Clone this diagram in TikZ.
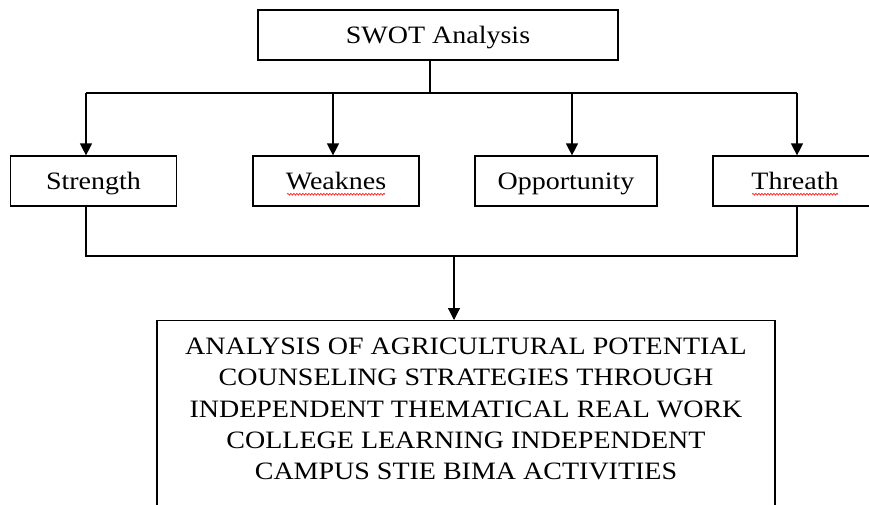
\documentclass[tikz,border=0pt]{standalone}
\usepackage{fontspec}
\setmainfont{Liberation Serif}[FakeStretch=1.12]
\usetikzlibrary{arrows.meta, decorations.pathmorphing}

\begin{document}
\begin{tikzpicture}[x=1pt, y=-1pt,
  box/.style={rectangle, draw=black, line width=1.2pt, minimum height=50pt, inner sep=0pt, text height=16.5pt, text depth=0pt, font=\fontsize{25}{30}\selectfont},
  line/.style={line width=1.2pt, draw=black},
  arrow/.style={line, -{Triangle[length=12pt, width=12pt]}},
  squiggle/.style={draw=red, line width=0.6pt, decorate, decoration={snake, amplitude=0.9pt, segment length=3pt}}
]
  \useasboundingbox (0,0) rectangle (869,504);
  \clip (0,0) rectangle (869,504);

  % Top box
  \node[box, minimum width=360pt] (swot) at (438,35) {SWOT Analysis};

  % SWOT boxes
  \node[box, minimum width=166pt] (strength) at (93.5,181) {Strength};
  \node[box, minimum width=166pt] (weak) at (336,181) {Weaknes};
  \node[box, minimum width=182pt] (opp) at (566,181) {Opportunity};
  \node[box, minimum width=164pt] (threat) at (795,181) {Threath};

  % Result box
  \node[box, anchor=north, minimum width=618pt, minimum height=0pt, inner ysep=17.5pt, text height=141.5pt, text depth=50pt, align=center, font=\fontsize{25}{31.3}\selectfont] (result) at (466,320)
    {ANALYSIS OF AGRICULTURAL POTENTIAL\\COUNSELING STRATEGIES THROUGH\\INDEPENDENT THEMATICAL REAL WORK\\COLLEGE LEARNING INDEPENDENT\\CAMPUS STIE BIMA ACTIVITIES};

  % Spelling marks
  \draw[squiggle] ([shift={(-49,5)}]weak.base) -- ([shift={(49,5)}]weak.base);
  \draw[squiggle] ([shift={(-43,5)}]threat.base) -- ([shift={(43,5)}]threat.base);

  % Bus coordinates
  \coordinate (top-l) at (86,93);
  \coordinate (top-w) at (333,93);
  \coordinate (top-m) at (430,93);
  \coordinate (top-o) at (572,93);
  \coordinate (top-r) at (797,93);
  \coordinate (bot-l) at (86,256);
  \coordinate (bot-m) at (454,256);
  \coordinate (bot-r) at (797,256);

  % Lines from SWOT
  \draw[line] (top-m |- swot.south) -- (top-m);
  \draw[line] (top-l) -- (top-r);
  \draw[arrow] (top-l) -- (top-l |- strength.north);
  \draw[arrow] (top-w) -- (top-w |- weak.north);
  \draw[arrow] (top-o) -- (top-o |- opp.north);
  \draw[arrow] (top-r) -- (top-r |- threat.north);

  % Lines to result
  \draw[line] (bot-l |- strength.south) -- (bot-l) -- (bot-r) -- (bot-r |- threat.south);
  \draw[arrow] (bot-m) -- (bot-m |- result.north);
\end{tikzpicture}
\end{document}
